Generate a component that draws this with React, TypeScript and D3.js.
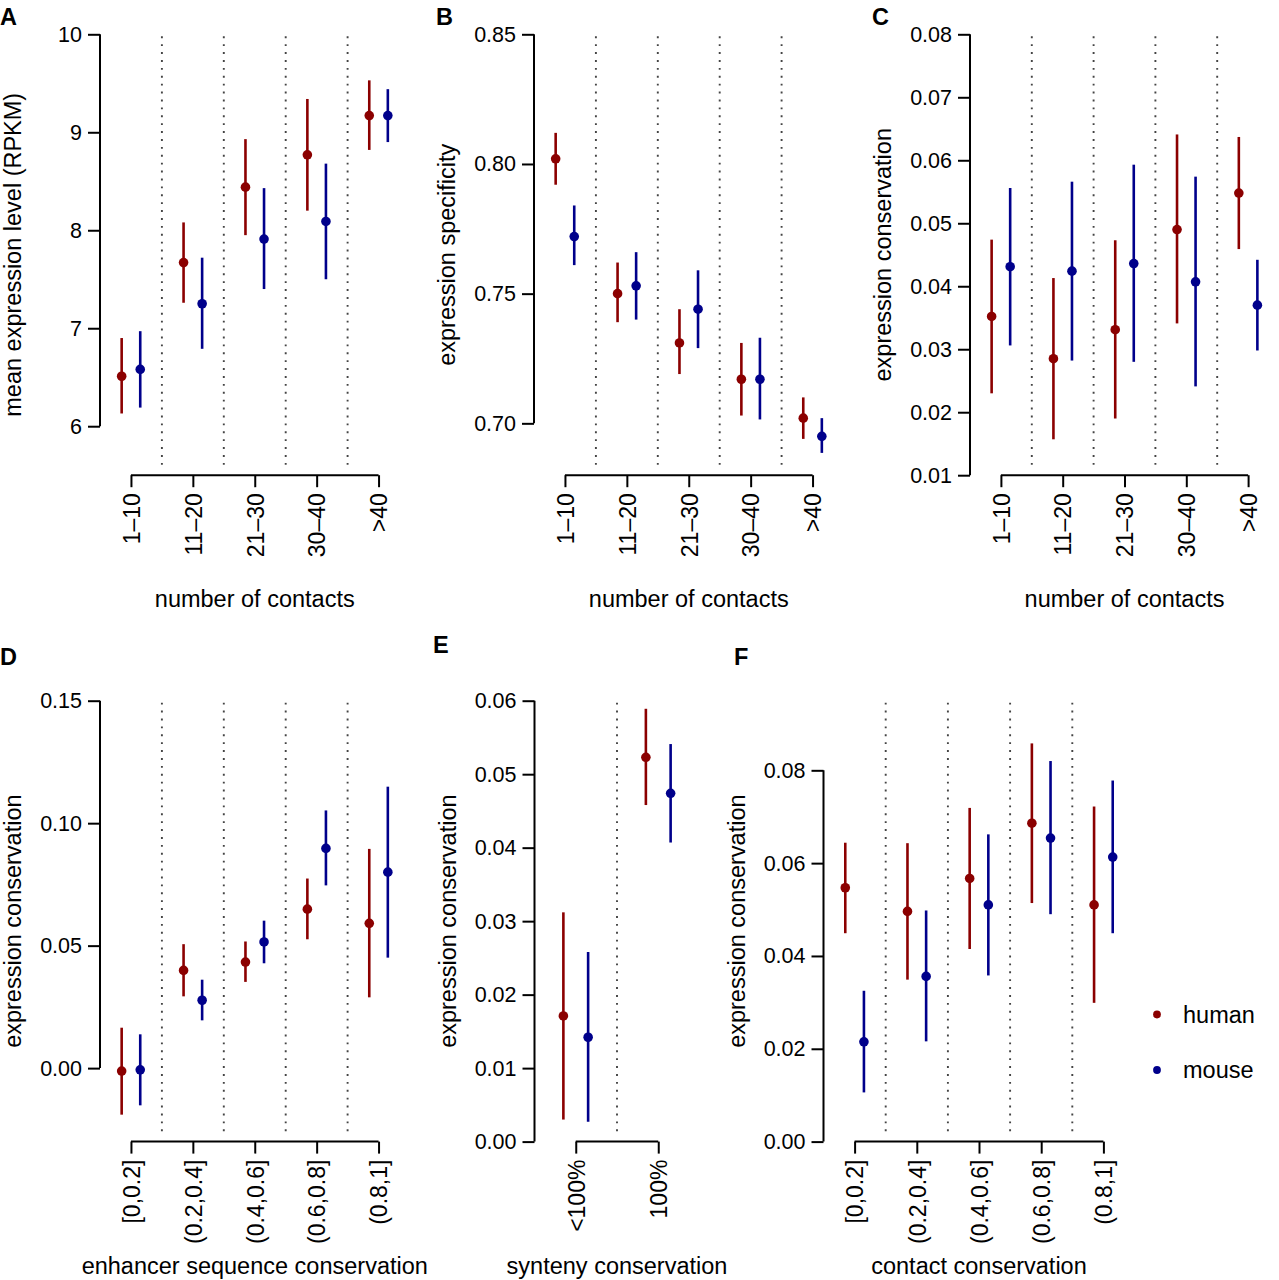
import React, { useEffect, useRef } from 'react';
import * as d3 from 'd3';

const FONT = '"Liberation Sans", Arial, Helvetica, sans-serif';
const HUMAN = '#8B0000';
const MOUSE = '#00008B';

// category labels
const contactBins = ['1\u201310', '11\u201320', '21\u201330', '30\u201340', '>40'];
const conservationBins = ['[0,0.2]', '(0.2,0.4]', '(0.4,0.6]', '(0.6,0.8]', '(0.8,1]'];
const syntenyBins = ['<100%', '100%'];

// A: mean expression level vs number of contacts
const humanRpkm = [6.51, 7.67, 8.44, 8.77, 9.17];
const humanRpkmLo = [6.13, 7.26, 7.95, 8.2, 8.82];
const humanRpkmHi = [6.9, 8.08, 8.93, 9.34, 9.53];
const mouseRpkm = [6.58, 7.25, 7.91, 8.09, 9.17];
const mouseRpkmLo = [6.19, 6.79, 7.4, 7.5, 8.9];
const mouseRpkmHi = [6.97, 7.72, 8.43, 8.68, 9.44];

// B: expression specificity vs number of contacts
const humanSpec = [0.802, 0.75, 0.731, 0.717, 0.702];
const humanSpecLo = [0.792, 0.739, 0.719, 0.703, 0.694];
const humanSpecHi = [0.812, 0.762, 0.744, 0.731, 0.71];
const mouseSpec = [0.772, 0.753, 0.744, 0.717, 0.695];
const mouseSpecLo = [0.761, 0.74, 0.729, 0.7015, 0.6886];
const mouseSpecHi = [0.784, 0.766, 0.759, 0.733, 0.702];

// C: expression conservation vs number of contacts
const humanConsC = [0.0352, 0.0285, 0.0331, 0.049, 0.0548];
const humanConsCLo = [0.023, 0.0157, 0.019, 0.0341, 0.0459];
const humanConsCHi = [0.0474, 0.0413, 0.0473, 0.0641, 0.0637];
const mouseConsC = [0.0431, 0.0424, 0.0436, 0.0407, 0.037];
const mouseConsCLo = [0.0306, 0.0282, 0.028, 0.0241, 0.0298];
const mouseConsCHi = [0.0556, 0.0566, 0.0593, 0.0574, 0.0442];

// D: expression conservation vs enhancer sequence conservation
const humanConsD = [-0.0012, 0.0399, 0.0433, 0.0649, 0.0591];
const humanConsDLo = [-0.019, 0.0293, 0.0352, 0.0526, 0.0289];
const humanConsDHi = [0.0165, 0.0506, 0.0517, 0.0774, 0.0895];
const mouseConsD = [-0.0007, 0.0277, 0.0515, 0.0897, 0.08];
const mouseConsDLo = [-0.0152, 0.0195, 0.0428, 0.0746, 0.0451];
const mouseConsDHi = [0.0138, 0.0361, 0.0602, 0.1052, 0.1149];

// E: expression conservation vs synteny conservation
const humanConsE = [0.0171, 0.0523];
const humanConsELo = [0.003, 0.0458];
const humanConsEHi = [0.0312, 0.0589];
const mouseConsE = [0.0142, 0.0474];
const mouseConsELo = [0.0027, 0.0407];
const mouseConsEHi = [0.0258, 0.0541];

// F: expression conservation vs contact conservation
const humanConsF = [0.0547, 0.0496, 0.0567, 0.0686, 0.051];
const humanConsFLo = [0.0449, 0.0349, 0.0415, 0.0514, 0.0299];
const humanConsFHi = [0.0644, 0.0643, 0.0719, 0.0858, 0.0722];
const mouseConsF = [0.0215, 0.0356, 0.051, 0.0654, 0.0613];
const mouseConsFLo = [0.0106, 0.0216, 0.0358, 0.049, 0.0449];
const mouseConsFHi = [0.0325, 0.0498, 0.0662, 0.082, 0.0778];

const TOP_ROW = 34.3;
const BOTTOM_ROW = 700.7;
const PLOT_H = 440.9;

const panels = [
  {
    letter: 'A', lx: 0, ly: 25, left: 100, top: TOP_ROW, width: 309.5,
    yDomain: [5.5, 10], yTicks: [6, 7, 8, 9, 10], fmt: d3.format('d'),
    cats: contactBins, yTitle: 'mean expression level (RPKM)', xTitle: 'number of contacts',
    human: [humanRpkm, humanRpkmLo, humanRpkmHi], mouse: [mouseRpkm, mouseRpkmLo, mouseRpkmHi],
  },
  {
    letter: 'B', lx: 436, ly: 25, left: 534, top: TOP_ROW, width: 309.5,
    yDomain: [0.68, 0.85], yTicks: [0.7, 0.75, 0.8, 0.85], fmt: d3.format('.2f'),
    cats: contactBins, yTitle: 'expression specificity', xTitle: 'number of contacts',
    human: [humanSpec, humanSpecLo, humanSpecHi], mouse: [mouseSpec, mouseSpecLo, mouseSpecHi],
  },
  {
    letter: 'C', lx: 872, ly: 25, left: 970, top: TOP_ROW, width: 309,
    yDomain: [0.01, 0.08], yTicks: [0.01, 0.02, 0.03, 0.04, 0.05, 0.06, 0.07, 0.08], fmt: d3.format('.2f'),
    cats: contactBins, yTitle: 'expression conservation', xTitle: 'number of contacts',
    human: [humanConsC, humanConsCLo, humanConsCHi], mouse: [mouseConsC, mouseConsCLo, mouseConsCHi],
  },
  {
    letter: 'D', lx: 0, ly: 665, left: 100, top: BOTTOM_ROW, width: 309.5,
    yDomain: [-0.03, 0.15], yTicks: [0, 0.05, 0.1, 0.15], fmt: d3.format('.2f'),
    cats: conservationBins, yTitle: 'expression conservation', xTitle: 'enhancer sequence conservation',
    human: [humanConsD, humanConsDLo, humanConsDHi], mouse: [mouseConsD, mouseConsDLo, mouseConsDHi],
  },
  {
    letter: 'E', lx: 433, ly: 653, left: 534.5, top: BOTTOM_ROW, width: 165,
    yDomain: [0, 0.06], yTicks: [0, 0.01, 0.02, 0.03, 0.04, 0.05, 0.06], fmt: d3.format('.2f'),
    cats: syntenyBins, yTitle: 'expression conservation', xTitle: 'synteny conservation',
    human: [humanConsE, humanConsELo, humanConsEHi], mouse: [mouseConsE, mouseConsELo, mouseConsEHi],
  },
  {
    letter: 'F', lx: 734, ly: 665, left: 823.5, top: BOTTOM_ROW, width: 311,
    yDomain: [0, 0.095], yTicks: [0, 0.02, 0.04, 0.06, 0.08], fmt: d3.format('.2f'),
    cats: conservationBins, yTitle: 'expression conservation', xTitle: 'contact conservation',
    human: [humanConsF, humanConsFLo, humanConsFHi], mouse: [mouseConsF, mouseConsFLo, mouseConsFHi],
  },
];

const OFFSET = 0.15; // horizontal shift of human/mouse within a group

function drawPanel(svg, p) {
  const n = p.cats.length;
  const bottom = p.top + PLOT_H;
  const x = d3.scaleLinear().domain([0.5, n + 0.5]).range([p.left, p.left + p.width]);
  const y = d3.scaleLinear().domain(p.yDomain).range([bottom, p.top]);
  const g = svg.append('g');

  // dotted separators between groups
  g.selectAll('line.sep')
    .data(d3.range(1, n))
    .enter().append('line')
    .attr('class', 'sep')
    .attr('x1', d => x(d + 0.5)).attr('x2', d => x(d + 0.5))
    .attr('y1', p.top + 2).attr('y2', bottom - 6)
    .attr('stroke', '#444')
    .attr('stroke-width', 1.9)
    .attr('stroke-dasharray', '1.9 6');

  // y axis, line spanning the tick range only
  const t0 = p.yTicks[0];
  const t1 = p.yTicks[p.yTicks.length - 1];
  g.append('g')
    .attr('transform', `translate(${p.left},0)`)
    .call(d3.axisLeft(y).tickValues(p.yTicks).tickFormat(p.fmt).tickSize(12).tickPadding(6))
    .call(a => a.select('.domain').attr('d', `M0,${y(t0)}V${y(t1)}`))
    .call(a => a.selectAll('line, path').attr('stroke-width', 2))
    .attr('font-family', FONT)
    .attr('font-size', 21.5);

  // x axis with rotated labels
  g.append('g')
    .attr('transform', `translate(0,${bottom})`)
    .call(d3.axisBottom(x).tickValues(d3.range(1, n + 1)).tickFormat(i => p.cats[i - 1]).tickSize(12))
    .call(a => a.select('.domain').attr('d', `M${x(1)},0H${x(n)}`))
    .call(a => a.selectAll('line, path').attr('stroke-width', 2))
    .attr('font-family', FONT)
    .attr('font-size', 23)
    .call(a => a.selectAll('text')
      .attr('transform', 'rotate(-90)')
      .attr('text-anchor', 'end')
      .attr('x', -18)
      .attr('y', 0)
      .attr('dy', '0.36em'));

  // error bars and points
  const series = [
    { key: 'human', color: HUMAN, shift: -OFFSET, vals: p.human },
    { key: 'mouse', color: MOUSE, shift: OFFSET, vals: p.mouse },
  ];
  series.forEach(s => {
    const [mid, lo, hi] = s.vals;
    const rows = mid.map((v, i) => ({ pos: i + 1 + s.shift, v, lo: lo[i], hi: hi[i] }));
    const sg = g.append('g').attr('fill', s.color).attr('stroke', s.color);
    sg.selectAll('line')
      .data(rows)
      .enter().append('line')
      .attr('x1', d => x(d.pos)).attr('x2', d => x(d.pos))
      .attr('y1', d => y(d.lo)).attr('y2', d => y(d.hi))
      .attr('stroke-width', 2.6);
    sg.selectAll('circle')
      .data(rows)
      .enter().append('circle')
      .attr('cx', d => x(d.pos))
      .attr('cy', d => y(d.v))
      .attr('r', 4.8)
      .attr('stroke', 'none');
  });

  // titles
  g.append('text')
    .attr('transform', `translate(${p.left - 79},${p.top + PLOT_H / 2}) rotate(-90)`)
    .attr('text-anchor', 'middle')
    .attr('font-family', FONT)
    .attr('font-size', 23.5)
    .text(p.yTitle);

  g.append('text')
    .attr('x', p.left + p.width / 2)
    .attr('y', bottom + 132)
    .attr('text-anchor', 'middle')
    .attr('font-family', FONT)
    .attr('font-size', 23.5)
    .text(p.xTitle);

  g.append('text')
    .attr('x', p.lx)
    .attr('y', p.ly)
    .attr('font-family', FONT)
    .attr('font-weight', 'bold')
    .attr('font-size', 23.5)
    .text(p.letter);
}

const App = () => {
  const svgRef = useRef(null);

  useEffect(() => {
    const svg = d3.select(svgRef.current);
    svg.selectAll('*').remove();

    panels.forEach(p => drawPanel(svg, p));

    const legend = svg.append('g')
      .attr('transform', 'translate(1157,1014.5)')
      .selectAll('g')
      .data([{ label: 'human', color: HUMAN }, { label: 'mouse', color: MOUSE }])
      .enter().append('g')
      .attr('transform', (d, i) => `translate(0,${i * 55.5})`);

    legend.append('circle')
      .attr('r', 3.9)
      .attr('fill', d => d.color);

    legend.append('text')
      .attr('x', 26)
      .attr('dy', '0.35em')
      .attr('font-family', FONT)
      .attr('font-size', 23.5)
      .text(d => d.label);
  }, []);

  return (
    <svg
      ref={svgRef}
      width="1279"
      height="1280"
      style={{ position: 'absolute', left: 0, top: 0, background: '#fff' }}
    ></svg>
  );
};

export default App;
